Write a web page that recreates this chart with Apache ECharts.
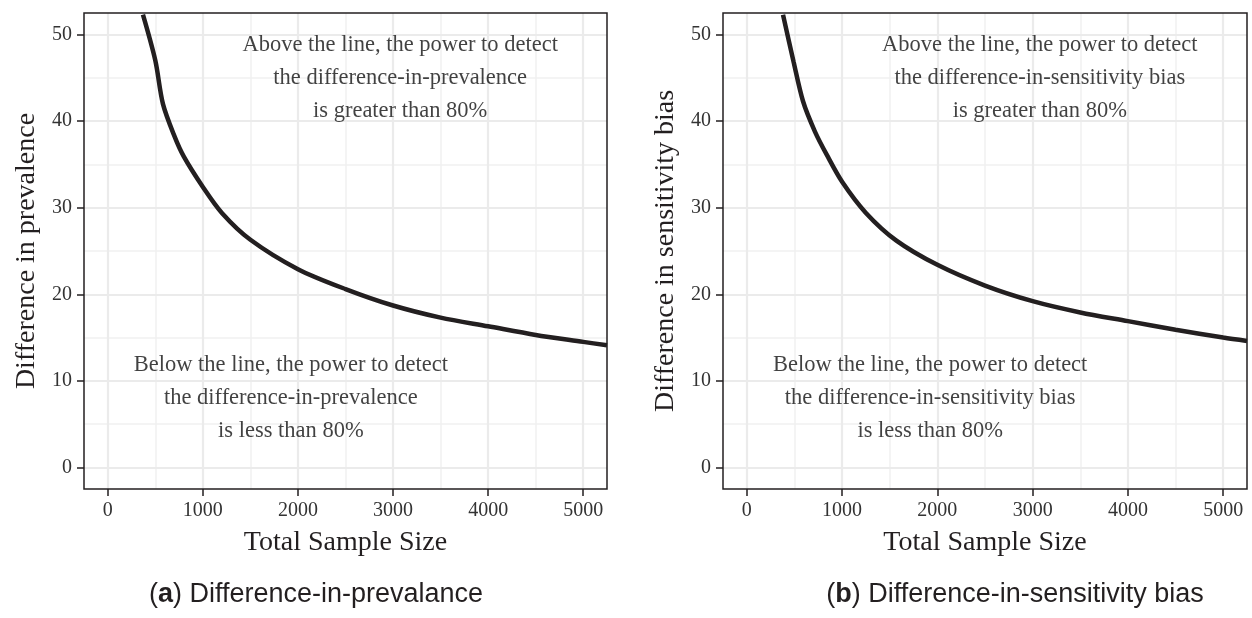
<!DOCTYPE html>
<html>
<head>
<meta charset="utf-8">
<script src="https://cdn.jsdelivr.net/npm/echarts@6/dist/echarts.min.js"></script>
<style>html,body{margin:0;padding:0;background:#fff}#c{width:1252px;height:618px}</style>
</head>
<body>
<div id="c"></div>
<script>
// ---- data ----
const sampleSizeA = [370, 500, 580, 700, 800, 1000, 1200, 1500, 2000, 2500, 3000, 3500, 4000, 4500, 5000, 5250];
const diffPrevalence = [52.3, 47.0, 42.0, 38.3, 35.9, 32.4, 29.4, 26.3, 22.9, 20.6, 18.7, 17.3, 16.3, 15.3, 14.5, 14.1];
const sampleSizeB = [380, 490, 590, 715, 840, 1000, 1250, 1570, 2000, 2500, 3000, 3500, 4000, 4500, 5000, 5250];
const diffSensitivity = [52.3, 46.9, 42.3, 38.8, 36.1, 33.0, 29.4, 26.2, 23.4, 21.0, 19.2, 17.9, 16.9, 15.9, 15.0, 14.6];
const xTicks = [0, 1000, 2000, 3000, 4000, 5000];
const xMinor = [500, 1500, 2500, 3500, 4500];
const yTicks = [0, 10, 20, 30, 40, 50];
const yMinor = [5, 15, 25, 35, 45];
const yTitles = ['Difference in prevalence', 'Difference in sensitivity bias'];
const xTitle = 'Total Sample Size';
const aboveText = [
  'Above the line, the power to detect\nthe difference-in-prevalence\nis greater than 80%',
  'Above the line, the power to detect\nthe difference-in-sensitivity bias\nis greater than 80%'
];
const belowText = [
  'Below the line, the power to detect\nthe difference-in-prevalence\nis less than 80%',
  'Below the line, the power to detect\nthe difference-in-sensitivity bias\nis less than 80%'
];
const abovePos = [3075, 45];
const belowPos = [1925, 8];
const captionLetters = ['a', 'b'];
const captionTexts = ['Difference-in-prevalance', 'Difference-in-sensitivity bias'];

// ---- chart ----
const serif = "'Liberation Serif', 'DejaVu Serif', serif";
const ink = '#231f20';
const chart = echarts.init(document.getElementById('c'), null, {renderer: 'canvas'});

const grids = [
  {left: 84, top: 13, width: 523, height: 476},
  {left: 723, top: 13, width: 524, height: 476}
];

const xAxes = [], yAxes = [], series = [];
[0, 1].forEach(i => {
  xAxes.push({
    type: 'value', gridIndex: i, min: -250, max: 5250,
    name: xTitle, nameLocation: 'middle', nameGap: 40,
    nameTextStyle: {fontFamily: serif, fontSize: 28, color: ink},
    axisLine: {show: false, onZero: false},
    axisTick: {show: true, inside: false, length: 7, customValues: xTicks, lineStyle: {color: ink, width: 1.5}},
    axisLabel: {customValues: xTicks, formatter: v => String(v), fontFamily: serif, fontSize: 20, color: '#333', margin: 12},
    splitLine: {show: false}
  });
  yAxes.push({
    type: 'value', gridIndex: i, min: -2.5, max: 52.5,
    name: yTitles[i], nameLocation: 'middle', nameGap: 43, nameRotate: 90,
    nameTextStyle: {fontFamily: serif, fontSize: 28, color: ink},
    axisLine: {show: false, onZero: false},
    axisTick: {show: true, inside: false, length: 7, customValues: yTicks, lineStyle: {color: ink, width: 1.5}},
    axisLabel: {customValues: yTicks, formatter: v => String(v), fontFamily: serif, fontSize: 20, color: '#333', margin: 12},
    splitLine: {show: false}
  });
  const gl = [];
  xMinor.forEach(v => gl.push({xAxis: v, lineStyle: {color: '#f1f1f1', width: 1.5, type: 'solid'}}));
  yMinor.forEach(v => gl.push({yAxis: v, lineStyle: {color: '#f1f1f1', width: 1.5, type: 'solid'}}));
  xTicks.forEach(v => gl.push({xAxis: v, lineStyle: {color: '#ebebeb', width: 2.2, type: 'solid'}}));
  yTicks.forEach(v => gl.push({yAxis: v, lineStyle: {color: '#ebebeb', width: 2.2, type: 'solid'}}));
  series.push({
    type: 'line', xAxisIndex: i, yAxisIndex: i, data: [], silent: true, z: 0,
    markLine: {silent: true, symbol: 'none', z: 0, animation: false, label: {show: false},
      emphasis: {disabled: true}, data: gl}
  });
  const xs = i === 0 ? sampleSizeA : sampleSizeB;
  const ys = i === 0 ? diffPrevalence : diffSensitivity;
  series.push({
    type: 'line', xAxisIndex: i, yAxisIndex: i, z: 3,
    data: xs.map((x, k) => [x, ys[k]]),
    showSymbol: false, symbol: 'none', clip: true, smooth: 0.3,
    lineStyle: {color: ink, width: 4.5}, silent: true, animation: false
  });
  series.push({
    type: 'scatter', xAxisIndex: i, yAxisIndex: i, symbolSize: 0, silent: true, z: 4,
    data: [{value: abovePos, label: {formatter: aboveText[i]}},
           {value: belowPos, label: {formatter: belowText[i]}}],
    label: {show: true, position: 'inside', align: 'center', verticalAlign: 'middle',
      fontFamily: serif, fontSize: 22.5, lineHeight: 33, color: '#111'},
    animation: false
  });
});

const captionCenters = [316, 1015];
const graphic = captionCenters.map((cx, i) => ({
  type: 'text', x: cx, y: 595,
  style: {
    text: '{n|(}{b|' + captionLetters[i] + '}{n|) ' + captionTexts[i] + '}',
    align: 'center', verticalAlign: 'middle',
    rich: {
      n: {fontFamily: "'Liberation Sans', Arial, sans-serif", fontSize: 27, fill: ink},
      b: {fontFamily: "'Liberation Sans', Arial, sans-serif", fontSize: 27, fontWeight: 'bold', fill: ink}
    }
  }
}));

chart.setOption({
  backgroundColor: '#ffffff',
  animation: false,
  grid: grids.map(g => Object.assign({show: true, borderColor: ink, borderWidth: 1.5, backgroundColor: 'transparent', z: 5}, g)),
  xAxis: xAxes,
  yAxis: yAxes,
  series: series,
  graphic: graphic
});
</script>
</body>
</html>
